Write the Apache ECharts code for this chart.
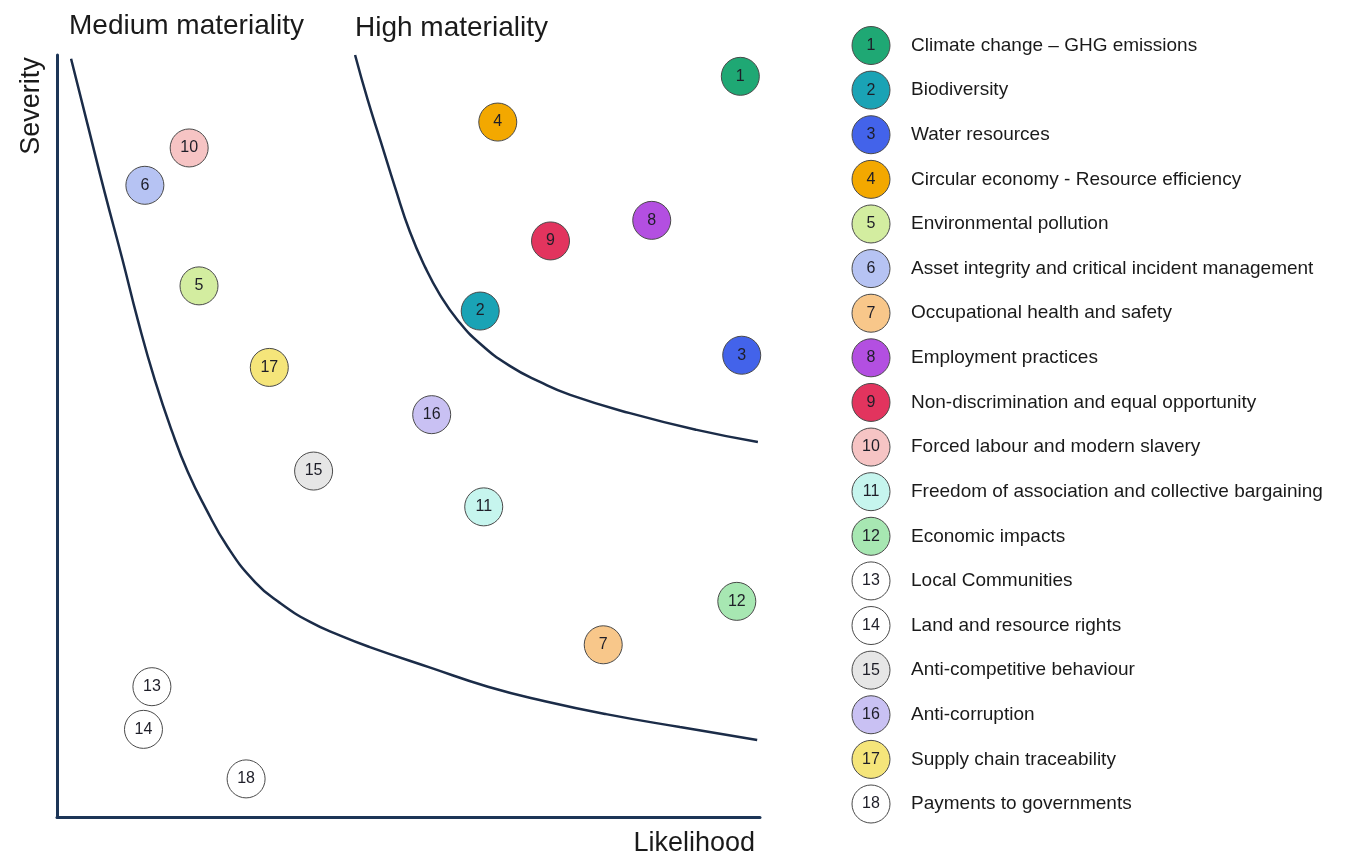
<!DOCTYPE html>
<html>
<head>
<meta charset="utf-8">
<script src="https://cdn.jsdelivr.net/npm/echarts@6/dist/echarts.min.js"></script>
<style>
html,body{margin:0;padding:0;background:#fff;}
#chart{width:1356px;height:856px;}
</style>
</head>
<body>
<div id="chart"></div>
<script>
// ---- data ----
const topics = [
  'Climate change – GHG emissions',
  'Biodiversity',
  'Water resources',
  'Circular economy - Resource efficiency',
  'Environmental pollution',
  'Asset integrity and critical incident management',
  'Occupational health and safety',
  'Employment practices',
  'Non-discrimination and equal opportunity',
  'Forced labour and modern slavery',
  'Freedom of association and collective bargaining',
  'Economic impacts',
  'Local Communities',
  'Land and resource rights',
  'Anti-competitive behaviour',
  'Anti-corruption',
  'Supply chain traceability',
  'Payments to governments'
];
const likelihood = [97.2, 60.2, 97.4, 62.7, 20.2, 12.5, 77.7, 84.6, 70.2, 18.8, 60.7, 96.7, 13.5, 12.3, 36.5, 53.3, 30.2, 26.9];
const severity   = [97.2, 66.4, 60.6, 91.2, 69.7, 82.9, 22.6, 78.3, 75.6, 87.8, 40.7, 28.3, 17.1, 11.5, 45.4, 52.8, 59.0, 5.0];
const fills = ['#1fa874','#1aa3b5','#4363ea','#f3a800','#d3eda0','#b6c3f3','#f8c78a','#b34fe1','#e2345e',
               '#f6c4c4','#c6f5ee','#a7e7b2','#ffffff','#ffffff','#e6e6e6','#c9c1f3','#f5e57a','#ffffff'];
// boundary curves (likelihood, severity)
const mediumBoundary = [[2.0,99.5],[4.4,90.7],[6.8,81.9],[9.3,73.2],[11.5,65.2],[13.9,57.4],[16.4,50.5],
  [18.6,45.3],[21.1,40.6],[24.3,35.4],[28.2,30.8],[31.7,28.1],[36.0,25.6],[40.3,23.8],[44.5,22.3],
  [53.1,19.6],[61.3,17.1],[69.4,15.2],[78.1,13.5],[88.6,11.8],[99.6,10.1]];
const highBoundary = [[42.4,100.0],[44.2,94.1],[46.1,88.5],[48.1,82.6],[50.2,76.8],[52.4,72.1],[54.5,68.5],
  [57.0,65.2],[60.2,62.1],[64.4,59.2],[68.7,57.1],[73.0,55.4],[81.5,53.0],[91.0,50.8],[99.7,49.2]];
const axisTitles = {x:'Likelihood', y:'Severity'};
const zoneTitles = ['Medium materiality','High materiality'];

// ---- chart ----
const FONT = '"Liberation Sans", Arial, Helvetica, sans-serif';
const axisColor = '#1c3557';
const chart = echarts.init(document.getElementById('chart'), null, {renderer:'canvas'});

const pointData = topics.map((t,i)=>({
  name: t,
  value: [likelihood[i], severity[i]],
  itemStyle: {color: fills[i]},
  label: {formatter: String(i+1)}
}));
const legendCircles = topics.map((t,i)=>({
  name: t, value: [0, i], itemStyle: {color: fills[i]}, label: {formatter: String(i+1)}
}));
const legendNames = topics.map((t,i)=>({ name: t, value: [0, i] }));

const circleStyle = {borderColor:'#4a4a4a', borderWidth:1, opacity:1};
const numLabel = {show:true, position:'inside', color:'#1e1e28', fontSize:16, fontFamily:FONT};
const curveStyle = {color:'#1b2c48', width:2.5};

chart.setOption({
  animation:false,
  backgroundColor:'#fff',
  grid:[
    {left:57, top:55, width:703, height:762},
    {left:871, top:45.5, width:10, height:758.5}
  ],
  xAxis:[
    {gridIndex:0, type:'value', min:0, max:100,
     axisLine:{show:true, onZero:false, lineStyle:{color:axisColor, width:3}},
     axisTick:{show:false}, axisLabel:{show:false}, splitLine:{show:false}},
    {gridIndex:1, type:'value', min:0, max:1, show:false}
  ],
  yAxis:[
    {gridIndex:0, type:'value', min:0, max:100,
     axisLine:{show:true, onZero:false, lineStyle:{color:axisColor, width:3}},
     axisTick:{show:false}, axisLabel:{show:false}, splitLine:{show:false}},
    {gridIndex:1, type:'value', min:0, max:17, inverse:true, show:false}
  ],
  graphic:[
    {type:'text', left:69, top:12, style:{text:zoneTitles[0], font:'28px '+FONT, fill:'#1a1a1a'}},
    {type:'text', left:355, top:14, style:{text:zoneTitles[1], font:'28px '+FONT, fill:'#1a1a1a'}},
    {type:'text', x:32, y:106, rotation:Math.PI/2,
     style:{text:axisTitles.y, font:'27px '+FONT, fill:'#1a1a1a', align:'center', verticalAlign:'middle'}},
    {type:'text', x:755, y:844, style:{text:axisTitles.x, font:'27px '+FONT, fill:'#1a1a1a', align:'right', verticalAlign:'middle'}}
  ],
  series:[
    {type:'line', xAxisIndex:0, yAxisIndex:0, data:mediumBoundary, smooth:0.5,
     symbol:'none', z:2, lineStyle:curveStyle},
    {type:'line', xAxisIndex:0, yAxisIndex:0, data:highBoundary, smooth:0.5,
     symbol:'none', z:2, lineStyle:curveStyle},
    {type:'scatter', xAxisIndex:0, yAxisIndex:0, data:pointData, symbol:'circle', symbolSize:38, z:5,
     itemStyle:circleStyle, label:numLabel},
    {type:'scatter', xAxisIndex:1, yAxisIndex:1, data:legendCircles, symbol:'circle', symbolSize:38, z:5,
     itemStyle:circleStyle, label:numLabel},
    {type:'scatter', xAxisIndex:1, yAxisIndex:1, data:legendNames, symbolSize:0, z:5,
     itemStyle:{opacity:1},
     label:{show:true, position:[40,0], align:'left', verticalAlign:'middle', formatter:'{b}',
            color:'#1a1a1a', fontSize:19, fontFamily:FONT}}
  ]
});
</script>
</body>
</html>
